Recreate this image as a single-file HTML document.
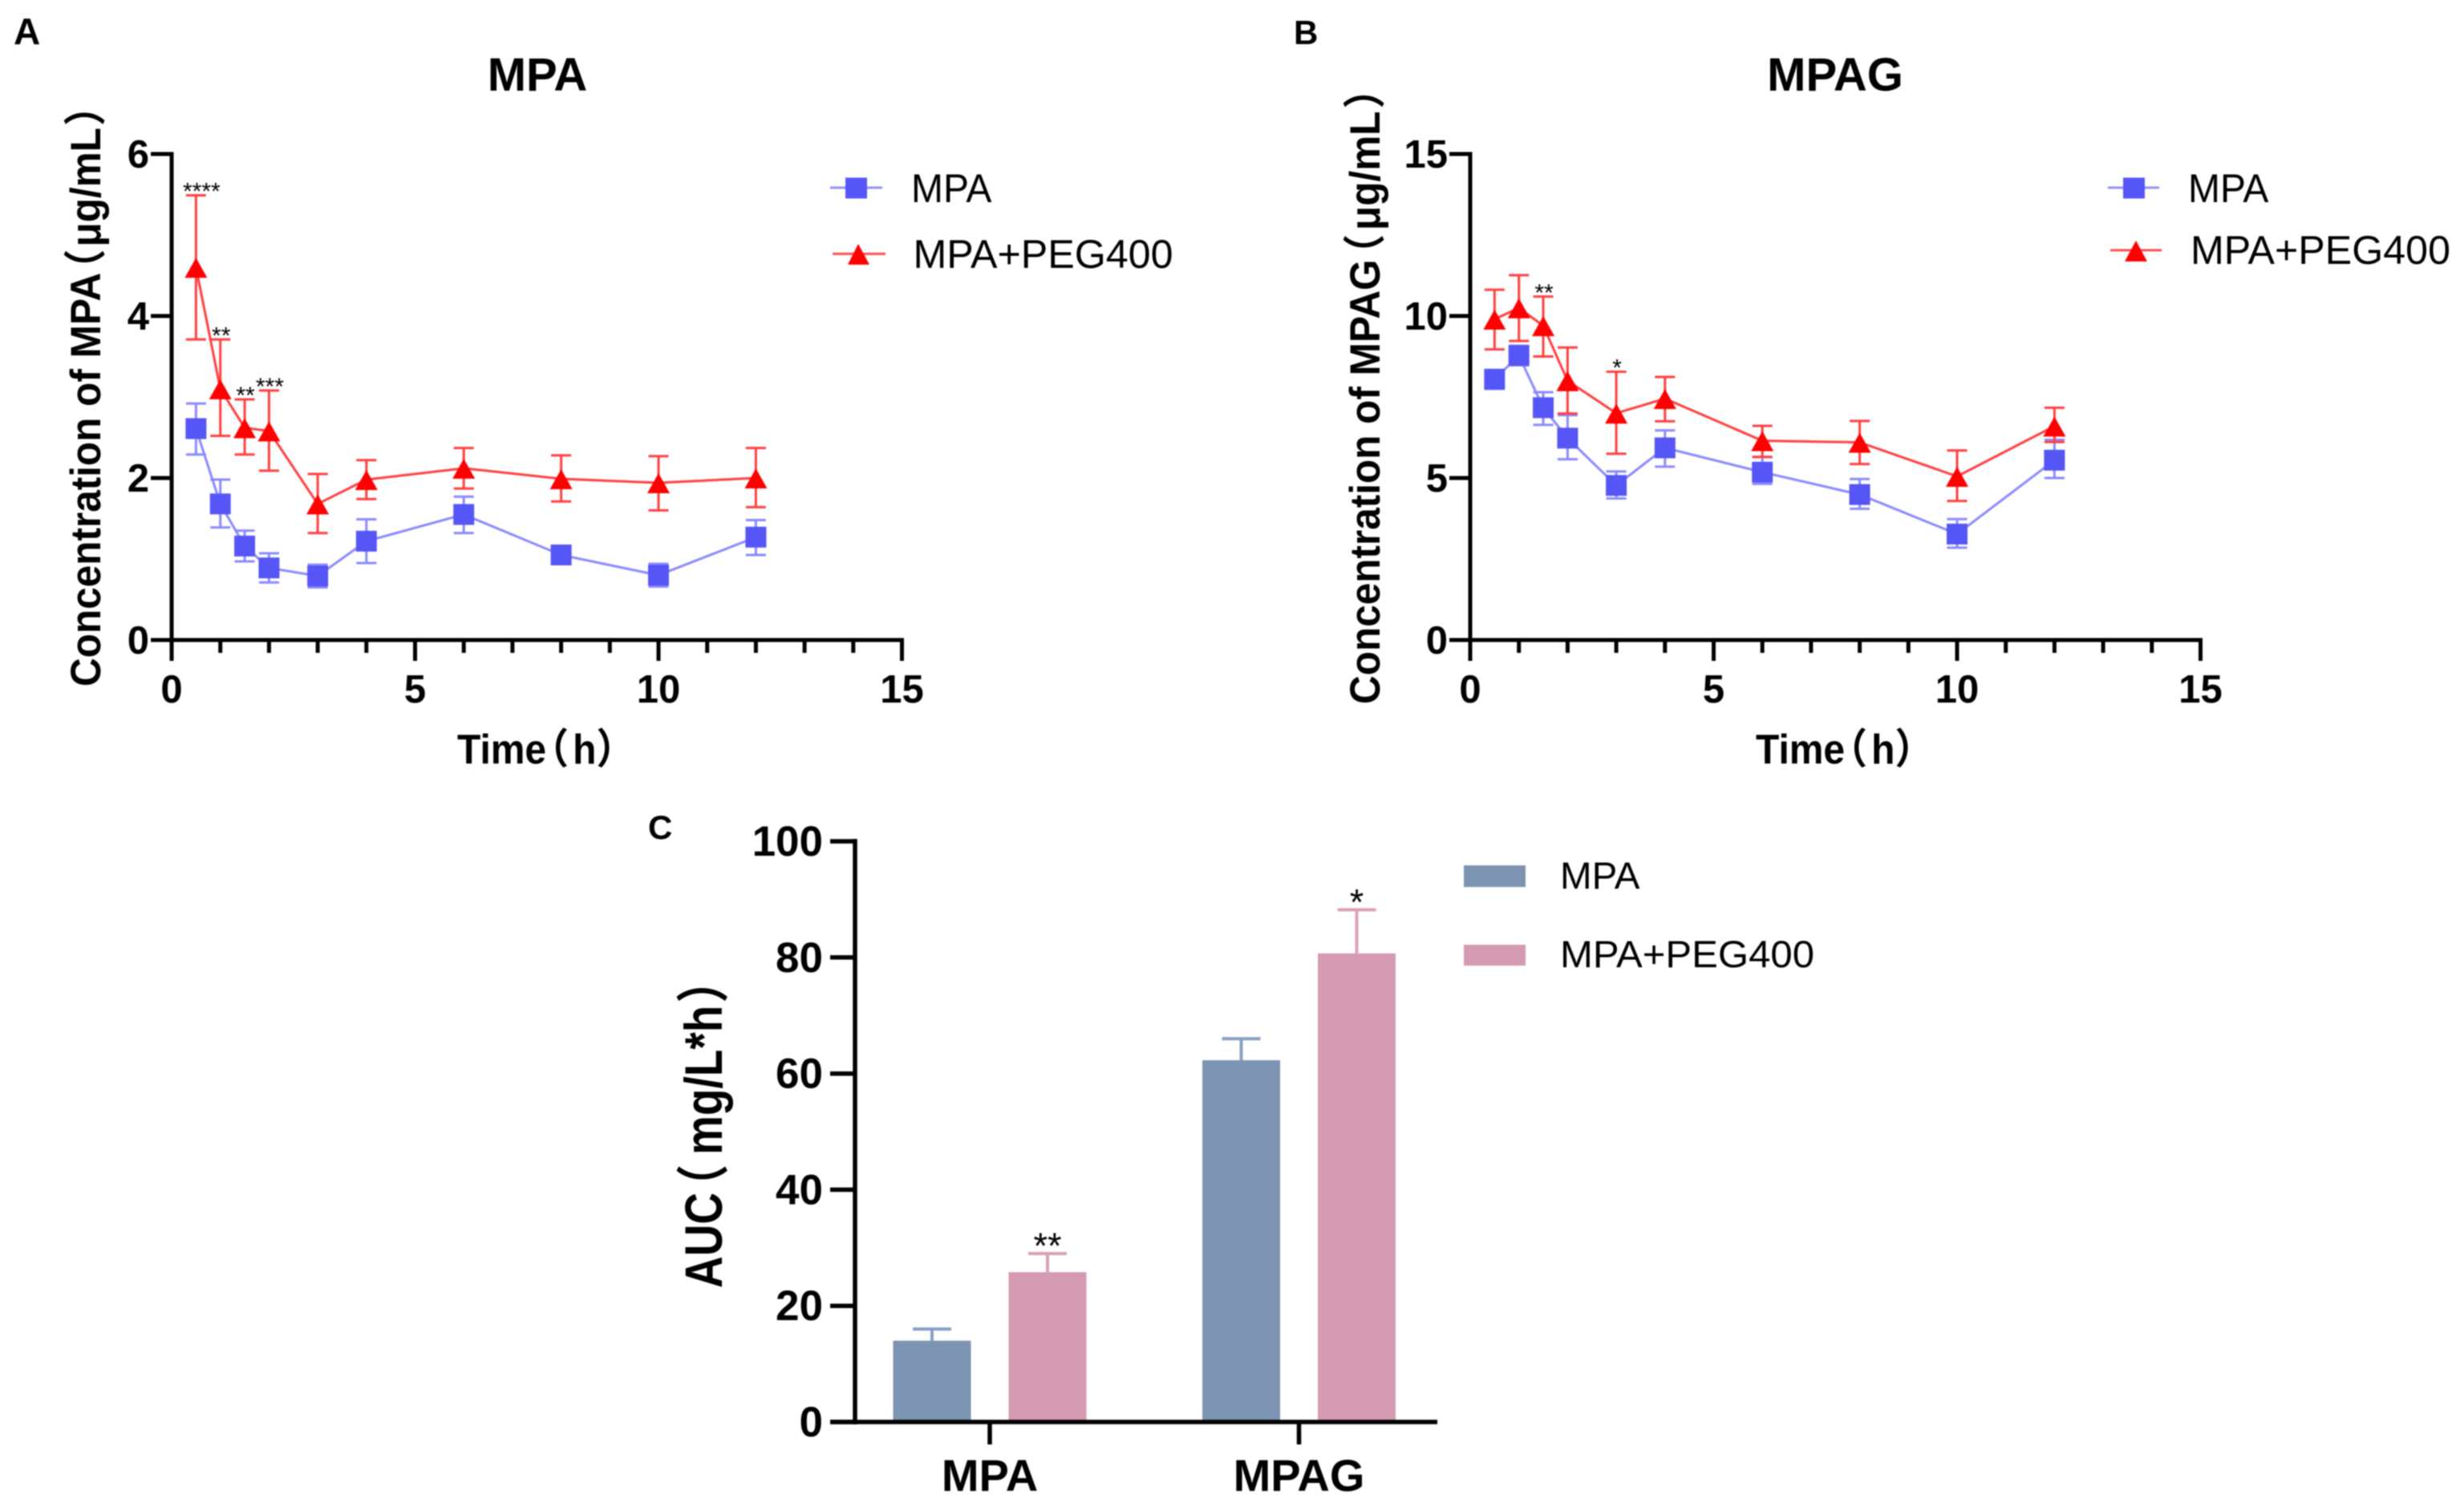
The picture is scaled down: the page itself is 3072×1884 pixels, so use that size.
<!DOCTYPE html>
<html lang="en">
<head>
<meta charset="utf-8">
<title>MPA and MPAG concentration and AUC charts</title>
<style>
html,body{margin:0;padding:0;background:#fff;}
body{width:3072px;height:1884px;overflow:hidden;}
svg{display:block;filter:blur(0.7px);}
text{font-family:"Liberation Sans","Noto Sans CJK SC",sans-serif;fill:#000;}
.b{font-weight:bold;}
</style>
</head>
<body>
<svg id="figure" xmlns="http://www.w3.org/2000/svg" width="3072" height="1884" viewBox="0 0 3072 1884">
  <rect x="0" y="0" width="3072" height="1884" fill="#ffffff"/>

  <text class="b" x="17" y="55" font-size="46">A</text>
  <text class="b" x="1613" y="55" font-size="42">B</text>
  <text class="b" x="808" y="1046" font-size="42">C</text>

  <text class="b" x="670" y="113" font-size="58" text-anchor="middle">MPA</text>
  <text class="b" x="2288" y="113" font-size="58" text-anchor="middle">MPAG</text>

  <text class="b" font-size="49.5" transform="translate(125 856) rotate(-90) scale(1 1.07)">Concentration of MPA<tspan dx="-20">（</tspan><tspan dx="3">μg/mL</tspan><tspan dx="2">）</tspan></text>
  <text class="b" font-size="49.5" transform="translate(1720 878) rotate(-90) scale(1 1.07)">Concentration of MPAG<tspan dx="-18">（</tspan><tspan dx="5">μg/mL</tspan><tspan dx="3">）</tspan></text>
  <text class="b" font-size="55" transform="translate(900 1606) rotate(-90) scale(1 1.2)">AUC<tspan dx="-20">（</tspan><tspan dx="12">mg/L*h</tspan><tspan dx="3">）</tspan></text>

  <text class="b" font-size="48" transform="translate(570 952) scale(1 1.08)">Time<tspan dx="-20">（</tspan><tspan dx="5">h</tspan>）</text>
  <text class="b" font-size="48" transform="translate(2189 952) scale(1 1.08)">Time<tspan dx="-20">（</tspan><tspan dx="5">h</tspan>）</text>

  <g id="panel-a"></g>
  <g id="panel-b"></g>
  <g id="panel-c"></g>

  <g>
    <g>
      <line x1="1035" y1="234" x2="1100" y2="234" stroke="#9090ff" stroke-width="3"/>
      <rect x="1054" y="221.5" width="27" height="26" fill="#5656f6"/>
      <text font-size="48" transform="translate(1136 252) scale(1 1.05)">MPA</text>
    </g>
    <g>
      <line x1="1038" y1="316.5" x2="1104" y2="316.5" stroke="#ff5050" stroke-width="3"/>
      <polygon points="1070,304 1084,330 1057,330" fill="#ff0000"/>
      <text font-size="47.5" textLength="324" lengthAdjust="spacingAndGlyphs" transform="translate(1138.5 334) scale(1 1.05)">MPA+PEG400</text>
    </g>
  </g>

  <g>
    <g>
      <line x1="2628" y1="234" x2="2692" y2="234" stroke="#9090ff" stroke-width="3"/>
      <rect x="2647" y="221.5" width="27" height="26" fill="#5656f6"/>
      <text font-size="48" transform="translate(2728 252) scale(1 1.05)">MPA</text>
    </g>
    <g>
      <line x1="2631" y1="312" x2="2695" y2="312" stroke="#ff5050" stroke-width="3"/>
      <polygon points="2663,300 2677,326 2649,326" fill="#ff0000"/>
      <text font-size="47.5" textLength="324" lengthAdjust="spacingAndGlyphs" transform="translate(2731 329) scale(1 1.05)">MPA+PEG400</text>
    </g>
  </g>

  <g>
    <g>
      <rect x="1825" y="1079" width="77" height="27" fill="#7c93b2"/>
      <text x="1945" y="1108" font-size="47.5">MPA</text>
    </g>
    <g>
      <rect x="1825" y="1178" width="77" height="26" fill="#d49ab2"/>
      <text x="1945" y="1206" font-size="47" textLength="317" lengthAdjust="spacingAndGlyphs">MPA+PEG400</text>
    </g>
  </g>
</svg>

<script>
// ---- Shared time points (h) ----
const times = [0.5, 1, 1.5, 2, 3, 4, 6, 8, 10, 12];
const xTickLabels = [0, 5, 10, 15];
const xMinorTicks = [1, 2, 3, 4, 6, 7, 8, 9, 11, 12, 13, 14];

// ---- Panel A: MPA concentration ----
const yTicksA = [0, 2, 4, 6];
const mpaMeanA = [2.61, 1.68, 1.16, 0.89, 0.79, 1.22, 1.55, 1.05, 0.80, 1.27];
const mpaUpperA = [2.92, 1.98, 1.35, 1.07, 0.93, 1.49, 1.77, 1.15, 0.94, 1.48];
const mpaLowerA = [2.29, 1.39, 0.97, 0.71, 0.65, 0.95, 1.32, 0.95, 0.66, 1.05];
const pegMeanA = [4.60, 3.10, 2.62, 2.58, 1.68, 1.98, 2.12, 1.99, 1.94, 2.00];
const pegUpperA = [5.49, 3.71, 2.97, 3.08, 2.05, 2.22, 2.37, 2.28, 2.27, 2.37];
const pegLowerA = [3.71, 2.52, 2.29, 2.09, 1.32, 1.74, 1.87, 1.71, 1.60, 1.64];
const sigTimesA = [0.5, 1, 1.5, 2];
const sigLabelsA = ['****', '**', '**', '***'];

// ---- Panel B: MPAG concentration ----
const yTicksB = [0, 5, 10, 15];
const mpaMeanB = [8.05, 8.78, 7.17, 6.23, 4.77, 5.93, 5.18, 4.49, 3.27, 5.55];
const mpaUpperB = [8.33, 9.08, 7.65, 6.94, 5.20, 6.47, 5.65, 4.97, 3.73, 6.18];
const mpaLowerB = [7.75, 8.48, 6.64, 5.58, 4.37, 5.35, 4.82, 4.05, 2.85, 5.00];
const pegMeanB = [9.90, 10.25, 9.70, 8.00, 7.00, 7.45, 6.15, 6.10, 5.05, 6.60];
const pegUpperB = [10.81, 11.26, 10.60, 9.03, 8.28, 8.12, 6.61, 6.76, 5.85, 7.17];
const pegLowerB = [8.97, 9.23, 8.75, 6.99, 5.75, 6.75, 5.65, 5.43, 4.29, 6.11];
const sigTimesB = [1.5, 3];
const sigLabelsB = ['**', '*'];

// ---- Panel C: AUC bars ----
const aucCategories = ['MPA', 'MPAG'];
const aucTicks = [0, 20, 40, 60, 80, 100];
const aucMpa = [14, 62.3];
const aucMpaErr = [16, 66];
const aucPeg = [25.8, 80.7];
const aucPegErr = [29, 88.2];
const aucSig = ['**', '*'];

const SVG_NS = 'http://www.w3.org/2000/svg';
function mk(tag, attrs, parent, txt) {
  const n = document.createElementNS(SVG_NS, tag);
  for (const k in attrs) n.setAttribute(k, attrs[k]);
  if (txt !== undefined) n.textContent = txt;
  parent.appendChild(n);
  return n;
}

function drawAxes(g, px, py, xTicks, xMinor, yTicks) {
  const x0 = px(0);
  const xEnd = px(15);
  const y0 = py(0);
  const yTop = py(yTicks[yTicks.length - 1]);

  const yAxis = mk('line', {x1: x0, y1: yTop - 2.5, x2: x0, y2: y0 + 2.5, stroke: '#000', 'stroke-width': 5}, g);
  
  

  const xAxis = mk('line', {x1: x0 - 26, y1: y0, x2: xEnd + 2.5, y2: y0, stroke: '#000', 'stroke-width': 5}, g);
  
  

  yTicks.forEach(function (v) {
    const tick = mk('line', {x1: x0 - 26, y1: py(v), x2: x0, y2: py(v), stroke: '#000', 'stroke-width': 5}, g);
    
    
    const label = mk('text', {x: x0 - 28, y: py(v) + 17, 'font-size': 49, 'text-anchor': 'end', class: 'b'}, g, String(v));
    
    
  });

  xTicks.forEach(function (v) {
    const tick = mk('line', {x1: px(v), y1: y0, x2: px(v), y2: y0 + 26, stroke: '#000', 'stroke-width': 5}, g);
    
    
    const label = mk('text', {x: px(v), y: 876, 'font-size': 49, 'text-anchor': 'middle', class: 'b'}, g, String(v));
    
    
  });

  xMinor.forEach(function (v) {
    const tick = mk('line', {x1: px(v), y1: y0, x2: px(v), y2: y0 + 16, stroke: '#000', 'stroke-width': 5}, g);
    
    
  });
}

function drawSeries(g, px, py, mean, upper, lower, lineColor, errColor, marker) {
  const series = mk('g', {}, g);
  
  

  const pts = times.map(function (t, i) { return px(t) + ',' + py(mean[i]); }).join(' ');
  const line = mk('polyline', {points: pts, fill: 'none', stroke: lineColor, 'stroke-width': 3}, series);
  
  

  times.forEach(function (t, i) {
    const x = px(t);
    const err = mk('path', {
      d: 'M' + x + ' ' + py(upper[i]) + 'V' + py(lower[i]) +
         'M' + (x - 12.5) + ' ' + py(upper[i]) + 'H' + (x + 12.5) +
         'M' + (x - 12.5) + ' ' + py(lower[i]) + 'H' + (x + 12.5),
      fill: 'none', stroke: errColor, 'stroke-width': 3
    }, series);
    
    
  });

  times.forEach(function (t, i) {
    const x = px(t);
    const y = py(mean[i]);
    let m;
    if (marker === 'square') {
      m = mk('rect', {x: x - 13, y: y - 13, width: 26, height: 26, fill: '#5656f6'}, series);
    } else {
      m = mk('polygon', {points: x + ',' + (y - 12) + ' ' + (x + 14) + ',' + (y + 13) + ' ' + (x - 14) + ',' + (y + 13), fill: '#ff0000'}, series);
    }
    
    
  });
}

function drawStars(g, px, py, sigTimes, sigLabels, upper) {
  sigTimes.forEach(function (t, i) {
    const idx = times.indexOf(t);
    const dx = sigLabels[i].length === 4 ? 6 : 0;
    const s = mk('text', {x: px(t) + dx + 1, y: py(upper[idx]) + 5, 'font-size': 30, 'text-anchor': 'middle'}, g, sigLabels[i]);
    
    
  });
}

function drawLinePanel(id, xStart, yMax, yTicks, m, mu, ml, p, pu, pl, sigTimes, sigLabels) {
  const g = document.getElementById(id);
  const px = function (t) { return xStart + t * 60.7; };
  const py = function (v) { return 798 - v * (606 / yMax); };
  drawAxes(g, px, py, xTickLabels, xMinorTicks, yTicks);
  drawSeries(g, px, py, m, mu, ml, '#8a8aff', '#8a8aff', 'square');
  drawSeries(g, px, py, p, pu, pl, '#ff4040', '#ff4040', 'triangle');
  drawStars(g, px, py, sigTimes, sigLabels, pu);
}

drawLinePanel('panel-a', 214, 6, yTicksA, mpaMeanA, mpaUpperA, mpaLowerA, pegMeanA, pegUpperA, pegLowerA, sigTimesA, sigLabelsA);
drawLinePanel('panel-b', 1833, 15, yTicksB, mpaMeanB, mpaUpperB, mpaLowerB, pegMeanB, pegUpperB, pegLowerB, sigTimesB, sigLabelsB);

(function drawBarPanel() {
  const g = document.getElementById('panel-c');
  const axisX = 1066;
  const y0 = 1773;
  const barW = 97;
  const groupCenters = function (i) { return 1234 + i * 385.5; };
  const py = function (v) { return y0 - v * 7.24; };

  const yAxis = mk('line', {x1: axisX, y1: py(100) - 3, x2: axisX, y2: y0 + 3, stroke: '#000', 'stroke-width': 5.5}, g);
  
  

  aucTicks.forEach(function (v) {
    const tick = mk('line', {x1: 1035, y1: py(v), x2: axisX, y2: py(v), stroke: '#000', 'stroke-width': 5.5}, g);
    
    
    const label = mk('text', {x: 1026, y: py(v) + 18, 'font-size': 53, 'text-anchor': 'end', class: 'b'}, g, String(v));
    
    
  });

  function bar(cx, value, errTop, fill, errColor) {
    const stem = mk('path', {
      d: 'M' + cx + ' ' + py(value) + 'V' + py(errTop) + 'M' + (cx - 24) + ' ' + py(errTop) + 'H' + (cx + 24),
      fill: 'none', stroke: errColor, 'stroke-width': 4
    }, g);
    
    
    const rect = mk('rect', {x: cx - barW / 2, y: py(value), width: barW, height: y0 - py(value), fill: fill}, g);
    
    
  }

  aucCategories.forEach(function (cat, i) {
    const c = groupCenters(i);
    bar(c - 72, aucMpa[i], aucMpaErr[i], '#7c93b2', '#86a0c4');
    bar(c + 72, aucPeg[i], aucPegErr[i], '#d49ab2', '#dc9fb8');

    const tick = mk('line', {x1: c, y1: y0, x2: c, y2: 1801, stroke: '#000', 'stroke-width': 5.5}, g);
    
    

    const label = mk('text', {x: c, y: 1859, 'font-size': 56, 'text-anchor': 'middle', class: 'b'}, g, cat);
    
    

    const star = mk('text', {x: c + 72, y: py(aucPegErr[i]) + 6, 'font-size': 45, 'text-anchor': 'middle'}, g, aucSig[i]);
    
    
  });

  const xAxis = mk('line', {x1: 1035, y1: y0, x2: 1792, y2: y0, stroke: '#000', 'stroke-width': 5.5}, g);
  
  
})();
</script>
</body>
</html>
